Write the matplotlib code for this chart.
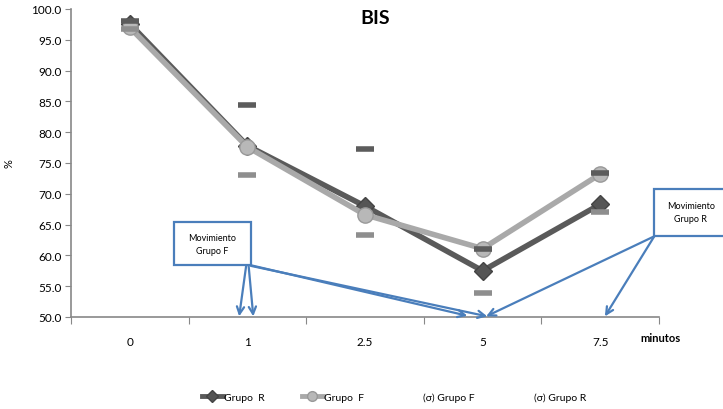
import matplotlib.pyplot as plt
from matplotlib.lines import Line2D
from matplotlib.patches import Rectangle

# data
minutes = ["0", "1", "2.5", "5", "7.5"]
grupo_r = [97.6, 77.8, 68.0, 57.5, 68.3]
grupo_f = [97.0, 77.6, 66.6, 61.1, 73.2]
sigma_upper = [98.0, 84.4, 77.2, 61.0, 73.3]
sigma_lower = [96.8, 73.0, 63.3, 53.9, 67.0]

DARK = "#5a5a5a"
LIGHT = "#a9a9a9"
BLUE = "#4a7ebb"

plt.rcParams["font.family"] = ["Lato", "DejaVu Sans"]

fig = plt.figure(figsize=(7.23, 4.10), dpi=100)
ax = fig.add_axes([71 / 723, 1 - 318 / 410, 588 / 723, 308 / 410])

x = list(range(len(minutes)))
ax.plot(x, grupo_r, color=DARK, lw=4, marker="D", ms=9, mfc="#555555", mec="#444444", zorder=3)
ax.plot(x, grupo_f, color=LIGHT, lw=4, marker="o", ms=11, mfc="#b8b8b8", mec="#999999", zorder=4)
ax.plot(x, sigma_upper, ls="none", marker="_", ms=13, mew=4, color="#5c5c5c", zorder=5)
ax.plot(x, sigma_lower, ls="none", marker="_", ms=13, mew=4, color="#8e8e8e", zorder=5)

ax.set_xlim(-0.5, len(minutes) - 0.5)
ax.set_ylim(50, 100)
ax.set_yticks(range(50, 101, 5))
ax.set_yticklabels([f"{v:.1f}" for v in range(50, 101, 5)], fontsize=8.5)
ax.set_xticks([i - 0.5 for i in range(len(minutes) + 1)])
ax.set_xticklabels([])
ax.set_xticks(x, minor=True)
ax.set_xticklabels(minutes, minor=True, fontsize=8.5)
ax.tick_params(axis="x", which="major", length=5, color="#888888")
ax.tick_params(axis="x", which="minor", length=0, pad=14)
ax.tick_params(axis="y", length=4, color="#888888", pad=3)
for side in ("top", "right"):
    ax.spines[side].set_visible(False)
for side in ("left", "bottom"):
    ax.spines[side].set_color("#888888")
    ax.spines[side].set_linewidth(1.2)

ax.set_ylabel("%", fontsize=8, labelpad=12)
ax.text(0.968, -0.068, "minutos", transform=ax.transAxes, fontsize=8,
        fontweight="bold", va="center", ha="left")
fig.text(375 / 723, 1 - 18 / 410, "BIS", fontsize=14, fontweight="bold",
         ha="center", va="center")

# annotation boxes
ax.add_patch(Rectangle((0.374, 58.4), 0.655, 7.0, fill=False, ec=BLUE, lw=1.6, zorder=6))
ax.text(0.70, 61.9, "Movimiento\nGrupo F", fontsize=6.5, ha="center", va="center",
        linespacing=1.6, zorder=6)
ax.add_patch(Rectangle((4.46, 63.1), 0.7, 7.7, fill=False, ec=BLUE, lw=1.6,
                       clip_on=False, zorder=6))
ax.text(4.77, 67.0, "Movimiento\nGrupo R", fontsize=6.5, ha="center", va="center",
        linespacing=1.6, clip_on=False, zorder=6)

arrows = [
    ((0.99, 58.4), (0.93, 50.1)),
    ((1.01, 58.4), (1.05, 50.1)),
    ((1.03, 58.4), (2.87, 50.2)),
    ((1.03, 58.3), (3.04, 50.1)),
    ((4.46, 63.1), (3.03, 50.1)),
    ((4.46, 63.1), (4.04, 50.1)),
]
for start, tip in arrows:
    ax.annotate("", xy=tip, xytext=start, annotation_clip=False,
                arrowprops=dict(arrowstyle="->", color=BLUE, lw=1.6,
                                shrinkA=0, shrinkB=0, mutation_scale=13))

handles = [
    Line2D([], [], color=DARK, lw=3.5, marker="D", ms=6, mfc="#555555", mec="#444444"),
    Line2D([], [], color=LIGHT, lw=3.5, marker="o", ms=7, mfc="#b8b8b8", mec="#999999"),
    Line2D([], [], ls="none"),
    Line2D([], [], ls="none"),
]
labels = ["Grupo  R", "Grupo  F", "(σ) Grupo F", "(σ) Grupo R"]
fig.legend(handles, labels, loc="center", bbox_to_anchor=(0.545, 1 - 398 / 410),
           ncol=4, frameon=False, fontsize=7.5, handlelength=2.0,
           handletextpad=0.1, columnspacing=3.6)

fig.savefig("out.png", dpi=100)
